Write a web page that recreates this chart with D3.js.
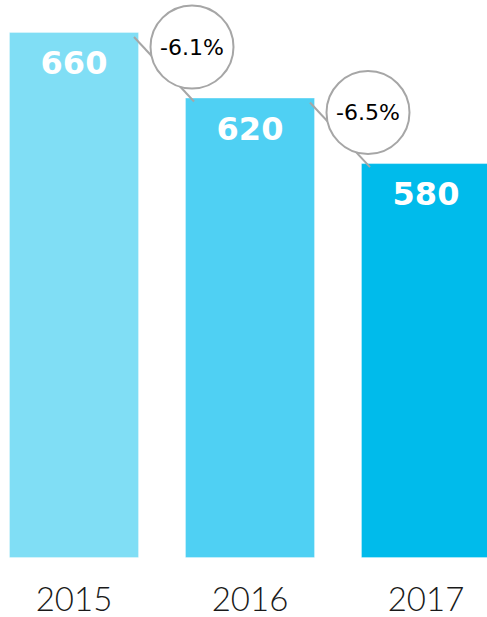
<!DOCTYPE html>
<html>
<head>
<meta charset="utf-8">
<script src="https://cdn.jsdelivr.net/npm/d3@7"></script>
<style>
  body { margin: 0; background: #fff; }
  svg { display: block; }
</style>
</head>
<body>
<svg id="chart"></svg>
<script>
// chart data
const years = ['2015', '2016', '2017'];
const values = [660, 620, 580];
const colors = ['#80def5', '#4fd0f3', '#00bbeb'];
const changes = ['-6.1%', '-6.5%'];

const width = 487;
const height = 617;

const svg = d3.select('#chart')
  .attr('width', width)
  .attr('height', height)
  .attr('font-family', 'Lato, sans-serif');

const x = d3.scaleBand()
  .domain(years)
  .range([9, 491])
  .paddingInner(46 / 176)
  .paddingOuter(0);

// bars start from a non-zero base like the original
const y = d3.scaleLinear()
  .domain([339, 660])
  .range([558, 32]);

const pairs = d3.range(values.length - 1);

svg.append('g')
  .selectAll('rect')
  .data(values)
  .join('rect')
  .attr('x', (d, i) => x(years[i]) + 0.5)
  .attr('y', d => y(d) + 0.5)
  .attr('width', x.bandwidth() - 1)
  .attr('height', d => y.range()[0] - y(d) - 1)
  .attr('fill', (d, i) => colors[i])
  .attr('stroke', '#ffffff')
  .attr('stroke-opacity', 0.3);

svg.append('g')
  .selectAll('text')
  .data(values)
  .join('text')
  .attr('x', (d, i) => x(years[i]) + x.bandwidth() / 2)
  .attr('y', d => y(d) + 42)
  .attr('text-anchor', 'middle')
  .attr('fill', '#fff')
  .attr('font-family', 'DejaVu Sans, sans-serif')
  .attr('font-weight', 'bold')
  .attr('font-size', 32)
  .text(d => d);

// connector lines between bar tops
svg.append('g')
  .attr('stroke', '#a6a6a6')
  .attr('stroke-width', 2)
  .selectAll('line')
  .data(pairs)
  .join('line')
  .attr('x1', i => x(years[i]) + x.bandwidth() - 5)
  .attr('y1', i => y(values[i]) + 5)
  .attr('x2', i => x(years[i + 1]) + 9)
  .attr('y2', i => y(values[i + 1]) + 4);

// change bubbles
const bubble = svg.append('g')
  .selectAll('g')
  .data(pairs)
  .join('g')
  .attr('transform', i => `translate(${x(years[i + 1]) + 7},${y(values[i]) + 15})`);

bubble.append('circle')
  .attr('r', 41.5)
  .attr('fill', '#fff')
  .attr('stroke', '#a6a6a6')
  .attr('stroke-width', 2);

bubble.append('text')
  .attr('text-anchor', 'middle')
  .attr('dy', '0.36em')
  .attr('font-family', 'DejaVu Sans, sans-serif')
  .attr('font-size', 22)
  .attr('fill', '#000')
  .text(i => changes[i]);

// year labels
svg.append('g')
  .selectAll('text')
  .data(years)
  .join('text')
  .attr('x', d => x(d) + x.bandwidth() / 2)
  .attr('y', 611)
  .attr('text-anchor', 'middle')
  .attr('font-size', 33)
  .attr('font-weight', 300)
  .attr('fill', '#1a1a1a')
  .text(d => d);
</script>
</body>
</html>
